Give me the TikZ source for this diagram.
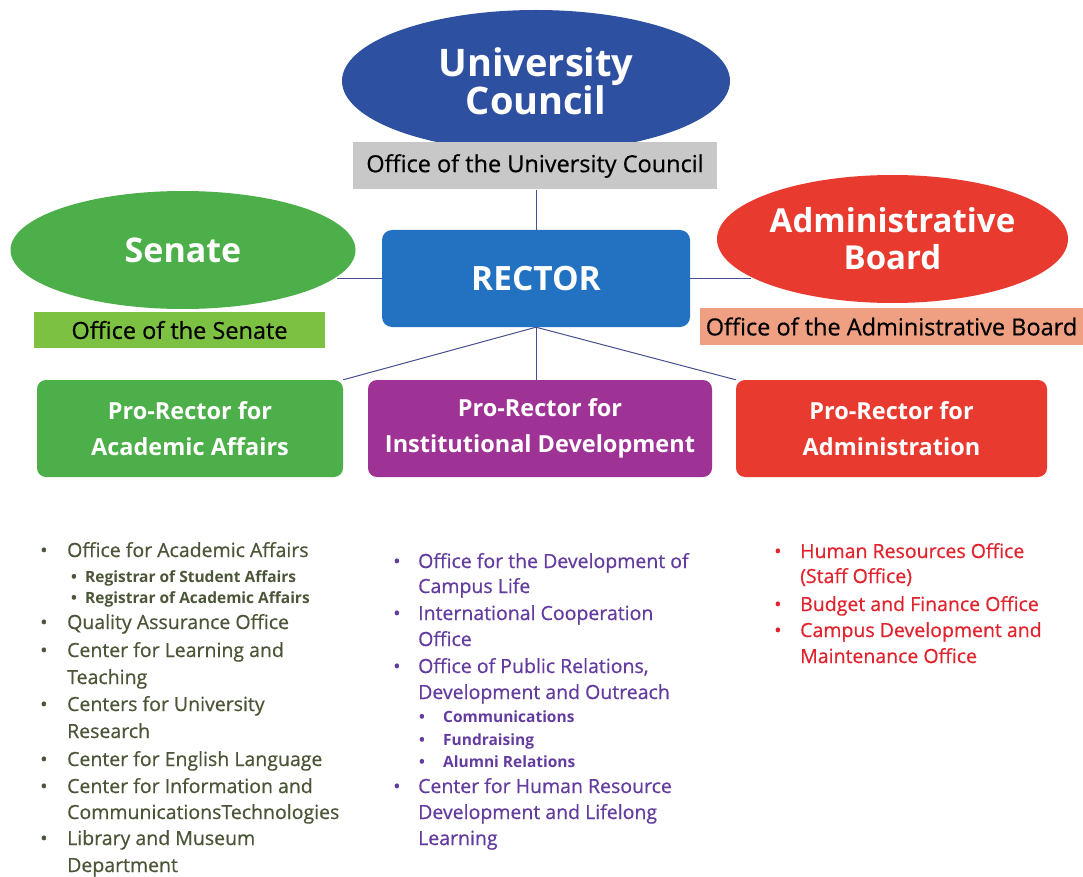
\documentclass[tikz,border=0pt]{standalone}
\usepackage{fontspec}
\setmainfont{Open Sans}
\newfontfamily\medfont{Open Sans}[FakeBold=0.6]
\usetikzlibrary{shapes.geometric}
\definecolor{councilblue}{RGB}{46,80,160}
\definecolor{rectorblue}{RGB}{35,114,194}
\definecolor{ofcgray}{RGB}{200,200,200}
\definecolor{senategreen}{RGB}{77,175,74}
\definecolor{senateofc}{RGB}{125,193,66}
\definecolor{boardred}{RGB}{232,58,47}
\definecolor{boardofc}{RGB}{240,160,130}
\definecolor{instpurple}{RGB}{158,51,149}
\definecolor{linkcol}{RGB}{70,80,140}
\definecolor{acadtxt}{RGB}{75,85,55}
\definecolor{insttxt}{RGB}{100,60,160}
\definecolor{admtxt}{RGB}{225,35,45}
\tikzset{
  headell/.style={ellipse, fill=#1, text=white, inner sep=0pt, align=center,
    font=\fontsize{33}{37}\selectfont\bfseries},
  ofcbox/.style={fill=#1, inner sep=0pt, font=\fontsize{23.5}{26}\selectfont\medfont},
  probox/.style={fill=#1, rounded corners=9pt, text=white, align=center,
    minimum height=97pt, inner sep=0pt, font=\fontsize{23.5}{36}\selectfont\bfseries},
  link/.style={draw=linkcol, line width=1pt},
  item/.style={anchor=base west, inner sep=0pt, font=\fontsize{19.5}{22}\selectfont\medfont},
  subitem/.style={anchor=base west, inner sep=0pt, font=\fontsize{15.5}{18}\selectfont\bfseries},
}
\newcommand{\bul}[2]{\makebox[#1][l]{\textbullet}#2}

\begin{document}
\begin{tikzpicture}[x=1pt, y=-1pt]
  \fill[white] (0,0) rectangle (1083,877);
  \useasboundingbox (0,0) rectangle (1083,877);

  % top level bodies
  \node[headell=councilblue, minimum width=388pt, minimum height=142pt,
    font=\fontsize{38}{38}\selectfont\bfseries] (council) at (536,81) {University\\Council};
  \node[ofcbox=ofcgray, minimum width=364pt, minimum height=47pt] (councilofc) at (535,166)
    {Office of the University Council};
  \node[fill=rectorblue, rounded corners=10pt, text=white, minimum width=308pt,
    minimum height=97pt, font=\fontsize{33.5}{36}\selectfont\bfseries] (rector) at (536,278.5) {RECTOR};

  \node[headell=senategreen, minimum width=345pt, minimum height=118pt,
    font=\fontsize{34}{37}\selectfont\bfseries] (senate) at (183,250) {Senate};
  \node[ofcbox=senateofc, minimum width=291pt, minimum height=36pt] (senateofc) at (179.5,330)
    {Office of the Senate};

  \node[headell=boardred, minimum width=351pt, minimum height=128pt] (board) at (892.5,239)
    {Administrative\\Board};
  \node[ofcbox=boardofc, minimum width=383pt, minimum height=37pt] (boardofc) at (891.5,326.5)
    {Office of the Administrative Board};

  % pro-rectors
  \node[probox=senategreen, minimum width=306pt] (pracad) at (190,428.5) {Pro-Rector for\\Academic Affairs};
  \node[probox=instpurple, minimum width=344pt] (prinst) at (540,428.5) {Pro-Rector for\\Institutional Development};
  \node[probox=boardred, minimum width=311pt] (pradm) at (891.5,428.5) {Pro-Rector for\\Administration};

  % links
  \draw[link] (councilofc.south -| rector.north) -- (rector.north);
  \draw[link] (rector.west) -- (rector.west -| senate.-10.4);
  \draw[link] (rector.east) -- (rector.east -| board.195.6);
  \draw[link] (rector.south) -- (pracad.north east);
  \draw[link] (rector.south) -- (rector.south |- prinst.north);
  \draw[link] (rector.south) -- (pradm.north west);

  % offices under each pro-rector (1 = item, 0 = second line, 2 = sub item)
  \begin{scope}[text=acadtxt]
  \foreach \y/\kind/\txt [count=\i] in {557/1/Office for Academic Affairs,
      582/2/Registrar of Student Affairs, 603/2/Registrar of Academic Affairs,
      629/1/Quality Assurance Office, 657/1/Center for Learning and, 684/0/Teaching,
      711/1/Centers for University, 738/0/Research, 766/1/Center for English Language,
      793/1/Center for Information and, 819/0/CommunicationsTechnologies,
      845/1/Library and Museum, 872/0/Department}{
    \ifcase\kind
      \node[item] (acad\i) at (67,\y) {\txt};
    \or
      \node[item] (acad\i) at (40,\y) {\bul{27pt}{\txt}};
    \or
      \node[subitem] (acad\i) at (71,\y) {\bul{14pt}{\txt}};
    \fi
  }
  \end{scope}

  \begin{scope}[text=insttxt]
  \foreach \y/\kind/\txt [count=\i] in {568/1/Office for the Development of, 593/0/Campus Life,
      620/1/International Cooperation, 646/0/Office,
      673/1/{Office of Public Relations,}, 699/0/Development and Outreach,
      722/2/Communications, 745/2/Fundraising, 767/2/Alumni Relations,
      793/1/Center for Human Resource, 819/0/Development and Lifelong, 845/0/Learning}{
    \ifcase\kind
      \node[item] (inst\i) at (418,\y) {\txt};
    \or
      \node[item] (inst\i) at (393,\y) {\bul{25pt}{\txt}};
    \or
      \node[subitem] (inst\i) at (419,\y) {\bul{24pt}{\txt}};
    \fi
  }
  \end{scope}

  \begin{scope}[text=admtxt]
  \foreach \y/\kind/\txt [count=\i] in {558/1/Human Resources Office, 583/0/(Staff Office),
      611/1/Budget and Finance Office, 637/1/Campus Development and, 663/0/Maintenance Office}{
    \ifcase\kind
      \node[item] (adm\i) at (800,\y) {\txt};
    \or
      \node[item] (adm\i) at (774,\y) {\bul{26pt}{\txt}};
    \fi
  }
  \end{scope}
\end{tikzpicture}
\end{document}
